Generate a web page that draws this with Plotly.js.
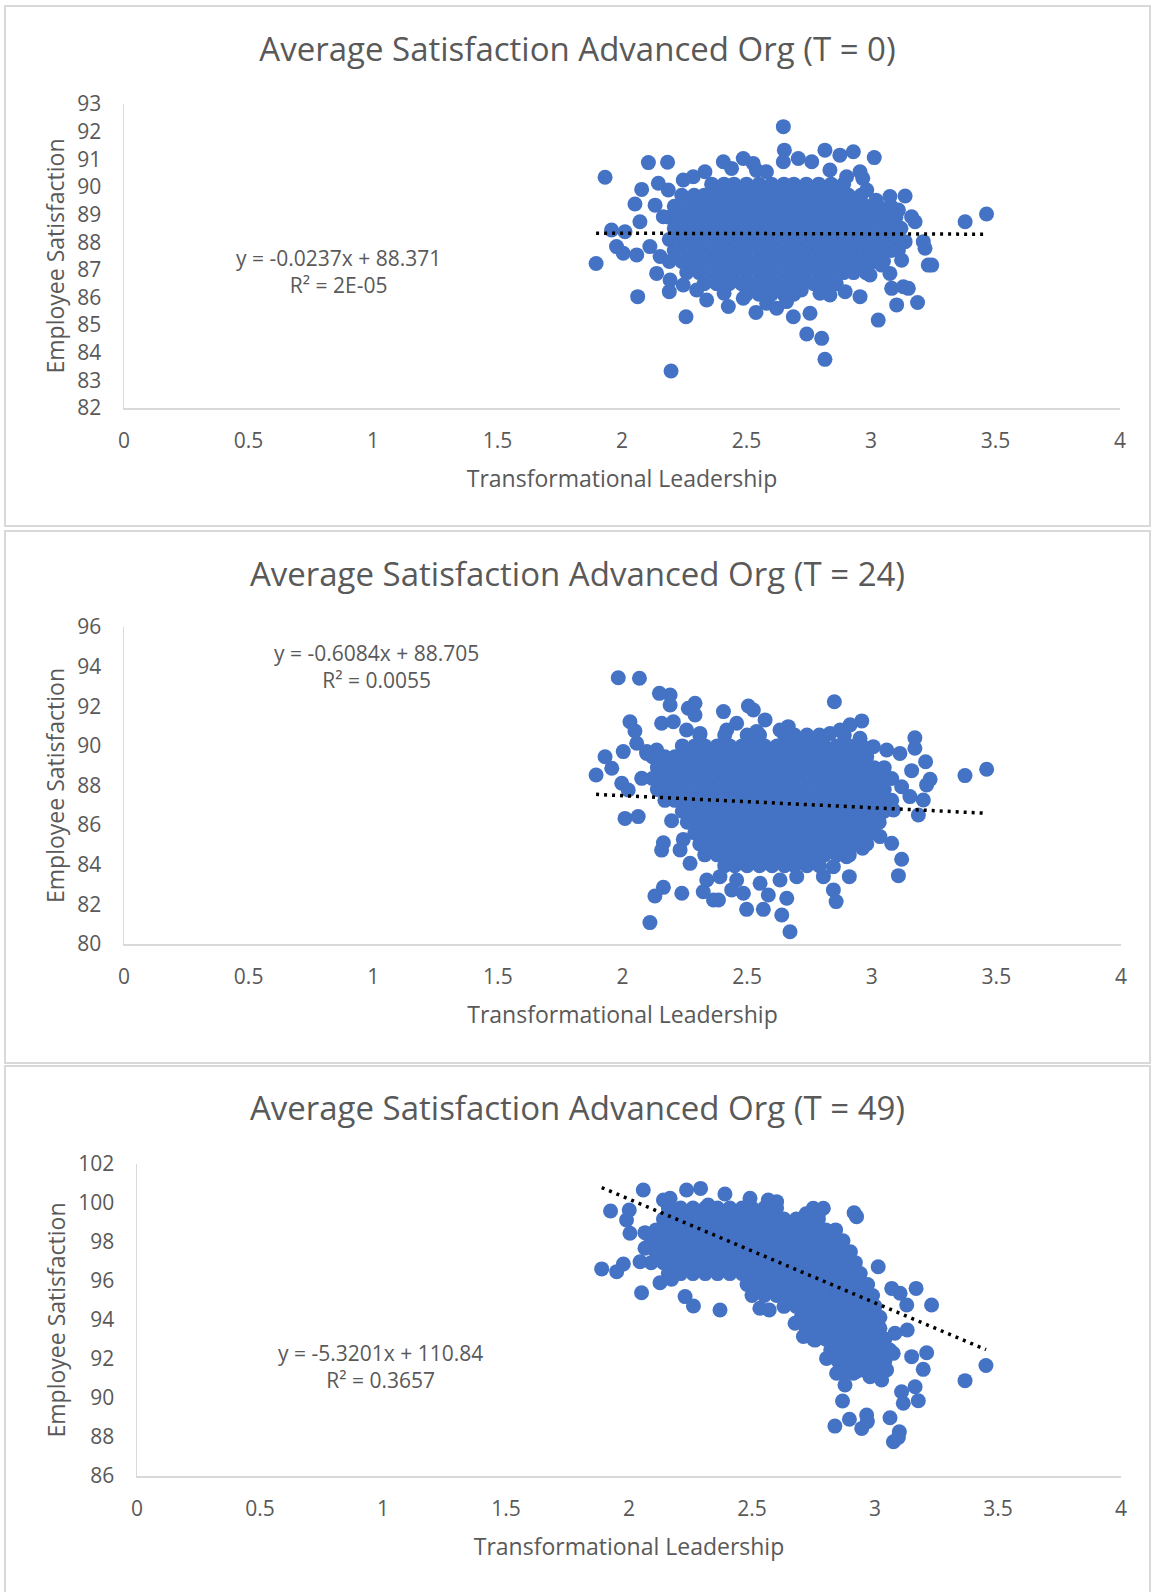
<!DOCTYPE html>
<html><head><meta charset="utf-8">
<script src="https://cdn.plot.ly/plotly-3.0.1.min.js"></script>
<style>
body{margin:0;background:#fff;width:1151px;height:1592px;position:relative;overflow:hidden;}
.frame{position:absolute;border:2px solid #d9d9d9;box-sizing:border-box;z-index:5;pointer-events:none;}
.plot{position:absolute;}
</style></head><body>
<div id="p0" class="plot" style="left:4px;top:5px;width:1147px;height:521px"></div>
<div id="p1" class="plot" style="left:4px;top:530px;width:1147px;height:533px"></div>
<div id="p2" class="plot" style="left:4px;top:1065px;width:1147px;height:527px"></div>
<div class="frame" style="left:4px;top:5px;width:1147px;height:522px"></div>
<div class="frame" style="left:4px;top:530px;width:1147px;height:534px"></div>
<div class="frame" style="left:4px;top:1065px;width:1147px;height:540px"></div>
<script>
// ---------- DATA ----------
const chartTitles = ['Average Satisfaction Advanced Org (T = 0)','Average Satisfaction Advanced Org (T = 24)','Average Satisfaction Advanced Org (T = 49)'];
const xAxisTitle = 'Transformational Leadership';
const yAxisTitle = 'Employee Satisfaction';
const xTickVals = [0,0.5,1,1.5,2,2.5,3,3.5,4];
const yRanges = [[82,93],[80,96],[86,102]];
const yDticks = [1,2,2];
const slopes = [-0.0237,-0.6084,-5.3201];
const intercepts = [88.371,88.705,110.84];
const eqLabels = ['y = -0.0237x + 88.371','y = -0.6084x + 88.705','y = -5.3201x + 110.84'];
const r2Labels = ['R² = 2E-05','R² = 0.0055','R² = 0.3657'];

// T = 0 : dense centre of the cloud
const t0Core = [
[2.36,90.10],[2.41,90.10],[2.45,90.10],[2.50,90.10],[2.55,90.10],[2.60,90.10],[2.65,90.10],[2.69,90.10],[2.74,90.10],[2.79,90.10],[2.84,90.10],[2.89,90.10],
[2.24,89.70],[2.29,89.70],[2.33,89.70],[2.38,89.70],[2.43,89.70],[2.48,89.70],[2.53,89.70],[2.57,89.70],[2.62,89.70],[2.67,89.70],[2.72,89.70],[2.77,89.70],[2.81,89.70],[2.86,89.70],[2.91,89.70],[2.96,89.70],
[2.21,89.30],[2.26,89.30],[2.31,89.30],[2.36,89.30],[2.41,89.30],[2.45,89.30],[2.50,89.30],[2.55,89.30],[2.60,89.30],[2.65,89.30],[2.69,89.30],[2.74,89.30],[2.79,89.30],[2.84,89.30],[2.89,89.30],[2.93,89.30],[2.98,89.30],[3.03,89.30],[3.08,89.30],
[2.19,88.90],[2.24,88.90],[2.29,88.90],[2.33,88.90],[2.38,88.90],[2.43,88.90],[2.48,88.90],[2.53,88.90],[2.57,88.90],[2.62,88.90],[2.67,88.90],[2.72,88.90],[2.77,88.90],[2.81,88.90],[2.86,88.90],[2.91,88.90],[2.96,88.90],[3.01,88.90],[3.05,88.90],[3.10,88.90],
[2.21,88.50],[2.26,88.50],[2.31,88.50],[2.36,88.50],[2.41,88.50],[2.45,88.50],[2.50,88.50],[2.55,88.50],[2.60,88.50],[2.65,88.50],[2.69,88.50],[2.74,88.50],[2.79,88.50],[2.84,88.50],[2.89,88.50],[2.93,88.50],[2.98,88.50],[3.03,88.50],[3.08,88.50],[3.12,88.50],
[2.19,88.10],[2.24,88.10],[2.29,88.10],[2.33,88.10],[2.38,88.10],[2.43,88.10],[2.48,88.10],[2.53,88.10],[2.57,88.10],[2.62,88.10],[2.67,88.10],[2.72,88.10],[2.77,88.10],[2.81,88.10],[2.86,88.10],[2.91,88.10],[2.96,88.10],[3.01,88.10],[3.05,88.10],[3.10,88.10],
[2.21,87.70],[2.26,87.70],[2.31,87.70],[2.36,87.70],[2.41,87.70],[2.45,87.70],[2.50,87.70],[2.55,87.70],[2.60,87.70],[2.65,87.70],[2.69,87.70],[2.74,87.70],[2.79,87.70],[2.84,87.70],[2.89,87.70],[2.93,87.70],[2.98,87.70],[3.03,87.70],[3.08,87.70],[3.11,87.70],
[2.19,87.30],[2.24,87.30],[2.29,87.30],[2.33,87.30],[2.38,87.30],[2.43,87.30],[2.48,87.30],[2.53,87.30],[2.57,87.30],[2.62,87.30],[2.67,87.30],[2.72,87.30],[2.77,87.30],[2.81,87.30],[2.86,87.30],[2.91,87.30],[2.96,87.30],[3.01,87.30],[3.05,87.30],
[2.26,86.90],[2.31,86.90],[2.36,86.90],[2.41,86.90],[2.45,86.90],[2.50,86.90],[2.55,86.90],[2.60,86.90],[2.65,86.90],[2.69,86.90],[2.74,86.90],[2.79,86.90],[2.84,86.90],[2.89,86.90],[2.93,86.90],[2.98,86.90],
[2.33,86.50],[2.38,86.50],[2.43,86.50],[2.48,86.50],[2.53,86.50],[2.57,86.50],[2.62,86.50],[2.67,86.50],[2.72,86.50],[2.77,86.50],[2.81,86.50],[2.86,86.50],
[2.50,86.12],[2.55,86.12],[2.60,86.12],[2.65,86.12],[2.69,86.12]
];
// T = 0 : edge and outlying points
const t0Edge = [
[2.648,92.18],[2.652,91.33],[2.648,90.91],[2.708,91.03],[2.762,90.91],[2.815,91.33],[2.875,91.15],[2.929,91.27],[2.956,90.55],[2.967,90.31],[3.013,91.06],[2.983,89.89],[2.835,90.61],[2.902,90.37],[2.527,90.85],[2.487,91.03],[2.54,90.6],[2.58,90.55],[2.407,90.91],[2.440,90.67],[2.333,90.55],[2.286,90.37],[2.246,90.25],[2.146,90.13],[2.079,89.91],[2.186,89.89],[2.106,90.88],[2.183,90.89],[1.932,90.35],[2.052,89.38],[2.133,89.34],[2.072,88.74],[2.166,88.92],[1.958,88.44],[2.012,88.38],[1.978,87.84],[2.005,87.60],[2.059,87.54],[2.112,87.84],[2.153,87.48],[1.896,87.23],[2.139,86.87],[2.193,86.63],[2.190,86.21],[2.063,86.03],[2.246,86.45],[2.257,85.30],[2.197,83.34],[2.30,86.27],[2.340,85.91],[2.41,86.15],[2.427,85.67],[2.487,85.97],[2.538,85.46],[2.581,85.79],[2.621,85.61],[2.661,85.85],[2.688,85.30],[2.755,85.43],[2.72,86.27],[2.795,86.15],[2.835,86.09],[2.896,86.21],[2.956,86.03],[2.996,86.81],[3.043,87.17],[3.076,86.87],[3.083,86.33],[3.130,86.39],[3.150,86.33],[3.123,87.35],[3.103,85.73],[3.187,85.82],[2.742,84.68],[2.802,84.52],[2.815,83.76],[3.029,85.18],[3.21,88.02],[3.217,87.78],[3.230,87.17],[3.244,87.17],[3.137,88.02],[3.163,88.92],[3.177,88.74],[3.110,89.16],[3.076,89.65],[3.137,89.67],[3.378,88.74],[3.464,89.02],[3.02,89.52],[3.063,89.16]
];

// T = 24 : dense centre
const t24Core = [
[2.31,90.55],[2.41,90.55],[2.50,90.55],[2.55,90.55],[2.65,90.55],[2.69,90.55],[2.74,90.55],[2.79,90.55],[2.89,90.55],
[2.24,90.00],[2.29,90.00],[2.33,90.00],[2.38,90.00],[2.43,90.00],[2.48,90.00],[2.53,90.00],[2.57,90.00],[2.62,90.00],[2.67,90.00],[2.72,90.00],[2.77,90.00],[2.81,90.00],[2.86,90.00],[2.91,90.00],[2.96,90.00],
[2.12,89.45],[2.17,89.45],[2.21,89.45],[2.26,89.45],[2.31,89.45],[2.36,89.45],[2.41,89.45],[2.45,89.45],[2.50,89.45],[2.55,89.45],[2.60,89.45],[2.65,89.45],[2.69,89.45],[2.74,89.45],[2.79,89.45],[2.84,89.45],[2.89,89.45],[2.93,89.45],[2.98,89.45],
[2.14,88.90],[2.19,88.90],[2.24,88.90],[2.29,88.90],[2.33,88.90],[2.38,88.90],[2.43,88.90],[2.48,88.90],[2.53,88.90],[2.57,88.90],[2.62,88.90],[2.67,88.90],[2.72,88.90],[2.77,88.90],[2.81,88.90],[2.86,88.90],[2.91,88.90],[2.96,88.90],[3.01,88.90],[3.05,88.90],
[2.12,88.35],[2.17,88.35],[2.21,88.35],[2.26,88.35],[2.31,88.35],[2.36,88.35],[2.41,88.35],[2.45,88.35],[2.50,88.35],[2.55,88.35],[2.60,88.35],[2.65,88.35],[2.69,88.35],[2.74,88.35],[2.79,88.35],[2.84,88.35],[2.89,88.35],[2.93,88.35],[2.98,88.35],[3.03,88.35],[3.08,88.35],
[2.14,87.80],[2.19,87.80],[2.24,87.80],[2.29,87.80],[2.33,87.80],[2.38,87.80],[2.43,87.80],[2.48,87.80],[2.53,87.80],[2.57,87.80],[2.62,87.80],[2.67,87.80],[2.72,87.80],[2.77,87.80],[2.81,87.80],[2.86,87.80],[2.91,87.80],[2.96,87.80],[3.01,87.80],[3.05,87.80],
[2.17,87.25],[2.21,87.25],[2.26,87.25],[2.31,87.25],[2.36,87.25],[2.41,87.25],[2.45,87.25],[2.50,87.25],[2.55,87.25],[2.60,87.25],[2.65,87.25],[2.69,87.25],[2.74,87.25],[2.79,87.25],[2.84,87.25],[2.89,87.25],[2.93,87.25],[2.98,87.25],[3.03,87.25],[3.08,87.25],
[2.24,86.70],[2.29,86.70],[2.33,86.70],[2.38,86.70],[2.43,86.70],[2.48,86.70],[2.53,86.70],[2.57,86.70],[2.62,86.70],[2.67,86.70],[2.72,86.70],[2.77,86.70],[2.81,86.70],[2.86,86.70],[2.91,86.70],[2.96,86.70],[3.01,86.70],[3.05,86.70],
[2.26,86.15],[2.31,86.15],[2.36,86.15],[2.41,86.15],[2.45,86.15],[2.50,86.15],[2.55,86.15],[2.60,86.15],[2.65,86.15],[2.69,86.15],[2.74,86.15],[2.79,86.15],[2.84,86.15],[2.89,86.15],[2.93,86.15],[2.98,86.15],[3.03,86.15],
[2.29,85.60],[2.33,85.60],[2.38,85.60],[2.43,85.60],[2.48,85.60],[2.53,85.60],[2.57,85.60],[2.62,85.60],[2.67,85.60],[2.72,85.60],[2.77,85.60],[2.81,85.60],[2.86,85.60],[2.91,85.60],[2.96,85.60],[3.01,85.60],
[2.31,85.05],[2.36,85.05],[2.41,85.05],[2.45,85.05],[2.50,85.05],[2.55,85.05],[2.60,85.05],[2.65,85.05],[2.69,85.05],[2.74,85.05],[2.79,85.05],[2.84,85.05],[2.89,85.05],[2.93,85.05],[2.98,85.05],
[2.33,84.50],[2.38,84.50],[2.43,84.50],[2.48,84.50],[2.53,84.50],[2.57,84.50],[2.62,84.50],[2.67,84.50],[2.72,84.50],[2.77,84.50],[2.81,84.50],[2.86,84.50],[2.91,84.50],
[2.41,83.95],[2.45,83.95],[2.50,83.95],[2.55,83.95],[2.60,83.95],[2.65,83.95],[2.69,83.95],[2.74,83.95],[2.79,83.95]
];
// T = 24 : edge and outlying points
const t24Edge = [
[1.983,93.44],[2.068,93.41],[2.148,92.65],[2.191,92.57],[2.191,92.06],[2.264,91.90],[2.291,92.15],[2.291,91.56],[2.405,91.73],[2.505,92.01],[2.525,91.81],[2.572,91.31],[2.850,92.23],[2.960,91.26],[2.913,91.06],[3.173,90.41],[3.173,89.88],[3.216,89.20],[3.160,88.75],[3.234,88.31],[3.220,88.03],[3.374,88.50],[3.461,88.82],[3.207,87.27],[3.187,86.51],[3.120,84.28],[3.107,83.45],[2.963,84.83],[2.910,83.40],[2.846,82.73],[2.857,82.14],[2.672,80.62],[2.639,81.46],[2.659,82.31],[2.565,81.75],[2.498,81.75],[2.585,82.47],[2.485,82.56],[2.438,82.73],[2.385,82.22],[2.365,82.22],[2.324,82.64],[2.338,83.23],[2.238,82.56],[2.164,82.86],[2.130,82.42],[2.110,81.08],[2.157,84.74],[2.164,85.11],[2.244,85.28],[2.197,86.22],[2.010,86.34],[2.063,86.43],[1.894,88.53],[1.957,88.87],[1.930,89.45],[2.003,89.71],[1.997,88.11],[2.023,87.77],[2.077,88.36],[2.030,91.22],[2.050,90.75],[2.057,90.13],[2.097,89.71],[2.157,91.14],
[2.458,91.14],[2.632,90.80],[2.665,90.97],[2.712,90.13],[2.833,90.63],[2.873,90.80],[2.953,90.38],[3.006,89.96],[3.06,89.79],[3.113,89.62],[3.12,87.94],[3.153,87.44],[3.087,86.76],[3.08,85.08],[3.033,85.42],[2.899,84.41],[2.846,83.90],[2.806,83.40],[2.699,83.40],[2.632,83.23],[2.552,83.06],[2.458,83.23],[2.391,83.40],[2.271,84.07],[2.231,84.75],[2.137,89.79],[2.097,89.62],[2.257,90.80],[2.311,90.63],[2.204,91.22],[2.538,90.72],[2.418,90.80]
];

// T = 49 : dense band
const t49Core = [
[2.16,99.74],[2.21,99.74],[2.26,99.74],[2.31,99.74],[2.36,99.74],[2.41,99.74],[2.46,99.74],[2.50,99.74],[2.55,99.74],[2.60,99.74],
[2.14,99.18],[2.19,99.18],[2.24,99.18],[2.29,99.18],[2.33,99.18],[2.38,99.18],[2.43,99.18],[2.48,99.18],[2.53,99.18],[2.58,99.18],[2.63,99.18],[2.68,99.18],[2.72,99.18],[2.77,99.18],
[2.11,98.62],[2.16,98.62],[2.21,98.62],[2.26,98.62],[2.31,98.62],[2.36,98.62],[2.41,98.62],[2.46,98.62],[2.50,98.62],[2.55,98.62],[2.60,98.62],[2.65,98.62],[2.70,98.62],[2.75,98.62],[2.80,98.62],[2.84,98.62],
[2.09,98.06],[2.14,98.06],[2.19,98.06],[2.24,98.06],[2.29,98.06],[2.33,98.06],[2.38,98.06],[2.43,98.06],[2.48,98.06],[2.53,98.06],[2.58,98.06],[2.63,98.06],[2.68,98.06],[2.72,98.06],[2.77,98.06],[2.82,98.06],[2.87,98.06],
[2.11,97.50],[2.16,97.50],[2.21,97.50],[2.26,97.50],[2.31,97.50],[2.36,97.50],[2.41,97.50],[2.46,97.50],[2.50,97.50],[2.55,97.50],[2.60,97.50],[2.65,97.50],[2.70,97.50],[2.75,97.50],[2.80,97.50],[2.85,97.50],[2.90,97.50],
[2.09,96.94],[2.14,96.94],[2.19,96.94],[2.24,96.94],[2.29,96.94],[2.33,96.94],[2.38,96.94],[2.43,96.94],[2.48,96.94],[2.53,96.94],[2.58,96.94],[2.63,96.94],[2.68,96.94],[2.72,96.94],[2.77,96.94],[2.82,96.94],[2.87,96.94],[2.92,96.94],
[2.16,96.38],[2.21,96.38],[2.26,96.38],[2.31,96.38],[2.36,96.38],[2.41,96.38],[2.46,96.38],[2.50,96.38],[2.55,96.38],[2.60,96.38],[2.65,96.38],[2.70,96.38],[2.75,96.38],[2.80,96.38],[2.85,96.38],[2.90,96.38],[2.94,96.38],
[2.48,95.82],[2.53,95.82],[2.58,95.82],[2.63,95.82],[2.68,95.82],[2.72,95.82],[2.77,95.82],[2.82,95.82],[2.87,95.82],[2.92,95.82],[2.97,95.82],
[2.50,95.26],[2.55,95.26],[2.60,95.26],[2.65,95.26],[2.70,95.26],[2.75,95.26],[2.80,95.26],[2.85,95.26],[2.90,95.26],[2.94,95.26],[2.99,95.26],
[2.63,94.70],[2.68,94.70],[2.72,94.70],[2.77,94.70],[2.82,94.70],[2.87,94.70],[2.92,94.70],[2.97,94.70],[3.00,94.70],
[2.70,94.14],[2.75,94.14],[2.80,94.14],[2.85,94.14],[2.90,94.14],[2.94,94.14],[2.99,94.14],[3.02,94.14],
[2.72,93.58],[2.77,93.58],[2.82,93.58],[2.87,93.58],[2.92,93.58],[2.97,93.58],[3.02,93.58],
[2.75,93.02],[2.80,93.02],[2.85,93.02],[2.90,93.02],[2.94,93.02],[2.99,93.02],[3.04,93.02],
[2.82,92.46],[2.87,92.46],[2.92,92.46],[2.97,92.46],[3.02,92.46],[3.06,92.46],
[2.85,91.90],[2.90,91.90],[2.94,91.90],[2.99,91.90],[3.04,91.90],
[2.87,91.34],[2.92,91.34],[2.97,91.34],[3.02,91.34]
];
// T = 49 : edge and outlying points
const t49Edge = [
[2.058,100.67],[2.234,100.67],[2.291,100.75],[2.167,100.24],[2.140,100.15],[1.925,99.59],[2.001,99.64],[1.990,99.13],[2.004,98.45],[2.065,98.48],[2.065,97.68],[2.045,96.99],[1.889,96.62],[1.950,96.48],[1.977,96.87],[2.051,95.40],[2.126,95.91],[2.173,96.09],[2.228,95.20],[2.262,94.72],[2.370,94.51],[2.532,94.60],[2.570,94.51],[2.675,93.83],[2.709,93.15],[2.756,92.97],[2.803,92.03],[2.844,91.27],[2.878,90.67],[2.868,89.85],[2.896,88.91],[2.837,88.56],[2.946,88.44],[2.966,89.13],[2.969,88.79],[3.061,88.99],[3.099,88.27],[3.075,87.76],[3.095,87.98],[3.108,90.32],[3.163,90.58],[3.176,89.86],[3.115,89.73],[3.196,91.47],[3.210,92.32],[3.149,92.12],[3.167,95.62],[3.230,94.77],[3.366,90.89],[3.451,91.67],[3.129,94.77],[3.102,95.37],[3.068,95.62],[3.013,96.73],[2.925,99.30],[2.915,99.50],[2.790,99.73],[2.749,99.73],[2.600,100.07],[2.566,100.15],[2.492,100.24],[2.390,100.46],[2.322,99.90],[3.131,93.49],[3.081,93.32],[3.074,92.29],[3.027,90.92],[3.047,91.44],[2.980,91.09],[2.939,91.44],[2.912,91.27],[2.72,99.45],[2.77,99.45]
];

// ---------- BUILD ----------
const panelPoints = [t0Core.concat(t0Edge), t24Core.concat(t24Edge), t49Core.concat(t49Edge)];
const frames = [
  {id:'p0', h:521, l:120, r:31, t:99, b:118, titleY:44, eqX:0.863, eqY:86.95},
  {id:'p1', h:533, l:120, r:30, t:97, b:119, titleY:44, eqX:1.015, eqY:94.02},
  {id:'p2', h:527, l:133, r:30, t:99, b:116, titleY:43, eqX:0.988, eqY:91.62}
];
const textColor = '#595959';
const fontFam = '"Open Sans", "Liberation Sans", sans-serif';

frames.forEach(function(f, i){
  const pts = panelPoints[i];
  const xs = pts.map(p => p[0]);
  const ys = pts.map(p => p[1]);
  const xmin = Math.min.apply(null, xs), xmax = Math.max.apply(null, xs);
  const trendX = [xmin, xmax];
  const trendY = trendX.map(x => slopes[i]*x + intercepts[i]);
  const data = [
    {type:'scatter', mode:'markers', x:xs, y:ys, hoverinfo:'skip',
     marker:{size:15, color:'#4472C4', line:{width:0}}},
    {type:'scatter', mode:'lines', x:trendX, y:trendY, hoverinfo:'skip',
     line:{color:'#000000', width:3.5, dash:'3px,5px'}}
  ];
  const layout = {
    width:1147, height:f.h,
    margin:{l:f.l, r:f.r, t:f.t, b:f.b, pad:0},
    paper_bgcolor:'rgba(0,0,0,0)', plot_bgcolor:'rgba(0,0,0,0)',
    showlegend:false,
    font:{family:fontFam, color:textColor},
    title:{text:chartTitles[i], font:{family:fontFam, size:33, color:textColor},
           x:0.5, xref:'container', xanchor:'center', y:1 - f.titleY/f.h, yref:'container', yanchor:'middle'},
    xaxis:{range:[0,4], tickmode:'array', tickvals:xTickVals, ticktext:xTickVals.map(String),
           showgrid:false, zeroline:false, showline:true, linecolor:'#d9d9d9', linewidth:1.5,
           ticks:'outside', ticklen:13, tickcolor:'rgba(0,0,0,0)',
           tickfont:{family:fontFam, size:21, color:textColor},
           title:{text:xAxisTitle, font:{family:fontFam, size:23, color:textColor}, standoff:18},
           fixedrange:true},
    yaxis:{range:yRanges[i], tickmode:'linear', tick0:yRanges[i][0], dtick:yDticks[i],
           showgrid:false, zeroline:false, showline:true, linecolor:'#d9d9d9', linewidth:1.5,
           ticks:'outside', ticklen:17, tickcolor:'rgba(0,0,0,0)',
           tickfont:{family:fontFam, size:21, color:textColor},
           title:{text:yAxisTitle, font:{family:fontFam, size:23, color:textColor}, standoff:6},
           fixedrange:true},
    annotations:[{xref:'x', yref:'y', x:f.eqX, y:f.eqY, showarrow:false, align:'center',
                  xanchor:'center', yanchor:'middle',
                  text:eqLabels[i] + '<br>' + r2Labels[i],
                  font:{family:fontFam, size:21, color:textColor}}]
  };
  Plotly.newPlot(f.id, data, layout, {staticPlot:true, displayModeBar:false});
});
</script>
</body></html>
